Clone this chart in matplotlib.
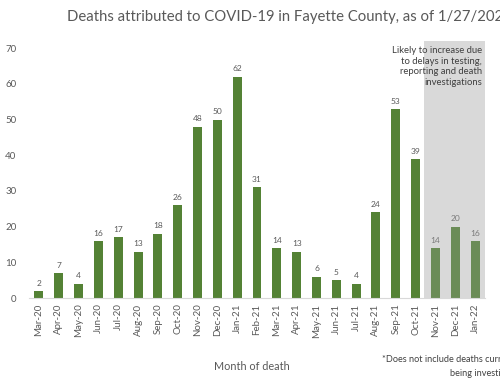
import matplotlib.pyplot as plt

plt.rcParams['font.family'] = ['Lato', 'DejaVu Sans']

# data
months = ["Mar-20", "Apr-20", "May-20", "Jun-20", "Jul-20", "Aug-20", "Sep-20",
          "Oct-20", "Nov-20", "Dec-20", "Jan-21", "Feb-21", "Mar-21", "Apr-21",
          "May-21", "Jun-21", "Jul-21", "Aug-21", "Sep-21", "Oct-21", "Nov-21",
          "Dec-21", "Jan-22"]
deaths = [2, 7, 4, 16, 17, 13, 18, 26, 48, 50, 62, 31, 14, 13, 6, 5, 4, 24, 53,
          39, 14, 20, 16]
n_pending = 3  # last months likely to increase

fig = plt.figure(figsize=(5, 3.78), dpi=100)
ax = fig.add_axes([0.058, 0.2116, 0.912, 0.68])

x = list(range(len(months)))
n_done = len(months) - n_pending
colors = ["#548235"] * n_done + ["#6b8c57"] * n_pending
ax.axvspan(n_done - 0.6, len(months) - 0.5, color="#d9d9d9", zorder=0, lw=0)
ax.bar(x, deaths, width=0.45, color=colors, zorder=2)

for i, v in enumerate(deaths):
    c = "#595959" if i < n_done else "#7a7a7a"
    ax.text(i, v + 1.2, str(v), ha="center", va="bottom", fontsize=6, color=c)

ax.set_xlim(-0.5, len(months) - 0.5)
ax.set_ylim(0, 72)
ax.set_yticks(range(0, 71, 10))
ax.set_xticks(x)
ax.set_xticklabels(months, rotation=90, fontsize=7, color="#595959")
ax.tick_params(axis="y", labelsize=7, labelcolor="#595959", length=0, pad=9)
ax.tick_params(axis="x", length=0, pad=4)
for s in ["top", "right", "left"]:
    ax.spines[s].set_visible(False)
ax.spines["bottom"].set_color("#d9d9d9")

fig.text(67 / 500, 1 - 17 / 378, "Deaths attributed to COVID-19 in Fayette County, as of 1/27/2022",
         fontsize=10.7, color="#595959", ha="left", va="center")
ax.text(22.35, 70.5, "Likely to increase due\nto delays in testing,\nreporting and death\ninvestigations",
        ha="right", va="top", fontsize=6.8, color="#404040", linespacing=1.2, zorder=3)
fig.text(252 / 500, 1 - 366 / 378, "Month of death", fontsize=7.8, color="#595959",
         ha="center", va="center")
fig.text(382 / 500, 1 - 359 / 378, "*Does not include deaths currently", fontsize=6.6,
         color="#404040", ha="left", va="center")
fig.text(450 / 500, 1 - 373 / 378, "being investigated", fontsize=6.6,
         color="#404040", ha="left", va="center")

fig.savefig("out.png", dpi=100)
